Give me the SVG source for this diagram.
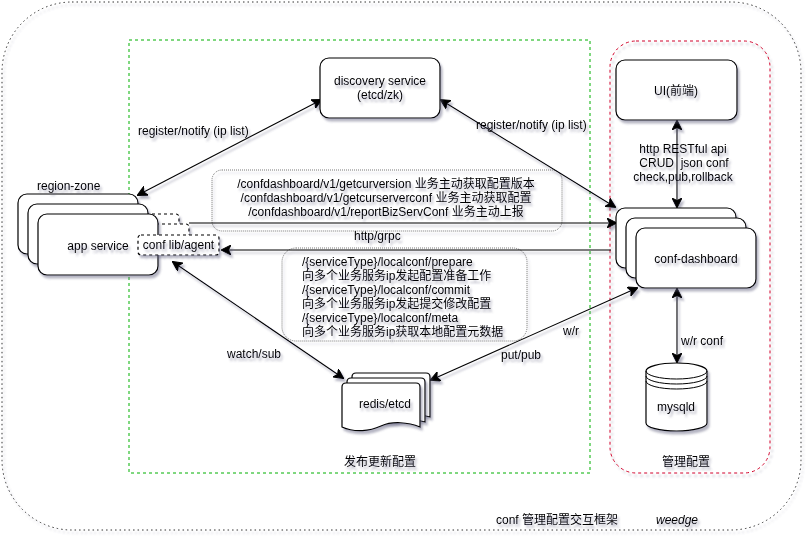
<svg xmlns="http://www.w3.org/2000/svg" width="812" height="542" viewBox="0 0 812 542">
<style>
text{font-family:"Liberation Sans","Noto Sans CJK SC",sans-serif;font-size:12px;fill:#000;white-space:pre;filter:url(#s)}
.m{text-anchor:middle}
.n{fill:#fff;stroke:#000;stroke-width:1.2;filter:url(#s)}
.d{fill:#fff;stroke:#000;stroke-width:1.2;stroke-dasharray:3 3;filter:url(#s)}
.note{fill:none;stroke:#555;stroke-width:.8;stroke-dasharray:1 1;filter:url(#s)}
.c{fill:none;stroke:#000;stroke-width:1.1;filter:url(#s)}
.p{fill:none;stroke:#000;stroke-width:1}
</style>
<defs>
<filter id="s" filterUnits="userSpaceOnUse" x="0" y="0" width="812" height="542"><feDropShadow dx="2" dy="3" stdDeviation="1.2" flood-color="#5a5a78" flood-opacity=".45"/></filter>
<marker id="a" viewBox="0 0 10 10" refX="9" refY="5" markerWidth="10" markerHeight="10" markerUnits="userSpaceOnUse" orient="auto-start-reverse"><path d="M0 0L10 5L0 10L2.500 5Z" fill="#000" stroke="#000"/></marker>
</defs>
<g id="frames">
<rect id="outer" x="2" y="2" width="799" height="528" rx="70" fill="none" stroke="#333" stroke-width="1" stroke-dasharray="1.500 3" filter="url(#s)"/>
<rect id="publish" x="129" y="40" width="461" height="433" fill="none" stroke="#00b000" stroke-width="1" stroke-dasharray="3 3"/>
<rect id="manage" x="610" y="41" width="160" height="432" rx="26" fill="none" stroke="#d0002a" stroke-width="1" stroke-dasharray="3 3" filter="url(#s)"/>
</g>
<g id="note1"><rect class="note" x="212" y="170" width="350" height="61" rx="10"/>
<text class="m" x="386" y="188">/confdashboard/v1/getcurversion 业务主动获取配置版本</text>
<text class="m" x="386" y="202">/confdashboard/v1/getcurserverconf 业务主动获取配置</text>
<text class="m" x="386" y="216">/confdashboard/v1/reportBizServConf 业务主动上报</text></g>
<g id="note2"><rect class="note" x="282" y="248" width="245" height="93" rx="14"/>
<text x="302" y="266">/{serviceType}/localconf/prepare</text>
<text x="302" y="280">向多个业务服务ip发起配置准备工作</text>
<text x="302" y="294">/{serviceType}/localconf/commit</text>
<text x="302" y="308">向多个业务服务ip发起提交修改配置</text>
<text x="302" y="322">/{serviceType}/localconf/meta</text>
<text x="302" y="336">向多个业务服务ip获取本地配置元数据</text></g>
<g id="connectors">
<path class="c" marker-start="url(#a)" marker-end="url(#a)" d="M321 100L138 195"/>
<path class="c" marker-start="url(#a)" marker-end="url(#a)" d="M441 100L615 207"/>
<path class="c" marker-start="url(#a)" marker-end="url(#a)" d="M677 121V207"/>
<path class="c" marker-end="url(#a)" d="M189 223H616"/>
<path class="c" marker-end="url(#a)" d="M611 250H222"/>
<path class="c" marker-start="url(#a)" marker-end="url(#a)" d="M173 262L343 378"/>
<path class="c" marker-start="url(#a)" marker-end="url(#a)" d="M431 380L637 288"/>
<path class="c" marker-start="url(#a)" marker-end="url(#a)" d="M677 289V362"/>
</g>
<g id="discovery"><rect class="n" x="320" y="58" width="120" height="60" rx="9"/>
<text class="m" x="380" y="85">discovery service</text><text class="m" x="380" y="99">(etcd/zk)</text></g>
<g id="ui"><rect class="n" x="616" y="60" width="121" height="60" rx="9"/>
<text class="m" x="676" y="95">UI(前端)</text></g>
<g id="app-service">
<rect class="n" x="18" y="194" width="120" height="60" rx="9"/>
<rect class="d" x="125" y="214" width="54" height="20" rx="3"/>
<rect class="n" x="28" y="204" width="120" height="60" rx="9"/>
<rect class="d" x="135" y="224" width="54" height="20" rx="3"/>
<rect class="n" x="38" y="214" width="120" height="61" rx="9"/>
<text class="m" x="98" y="250">app service</text>
</g>
<g id="conf-lib"><rect class="d" x="138" y="235" width="81" height="20" rx="3"/>
<text class="m" x="178.500" y="249">conf lib/agent</text></g>
<g id="conf-dashboard">
<rect class="n" x="616" y="208" width="120" height="60" rx="9"/>
<rect class="n" x="626" y="218" width="120" height="60" rx="9"/>
<rect class="n" x="636" y="228" width="120" height="60" rx="9"/>
<text class="m" x="696" y="263">conf-dashboard</text>
</g>
<g id="redis">
<path class="n" d="M352 377Q352 373 356 373H426Q430 373 430 377V417C420 414 410 414 400 417H352Z"/>
<path class="n" d="M347 382Q347 378 351 378H421Q425 378 425 382V422C415 419 405 419 395 422H347Z"/>
<path class="n" d="M342 387Q342 383 346 383H416Q420 383 420 387V427C408 422 392 421 381 426C370 431 355 433 342 427Z"/>
<text class="m" x="385" y="408">redis/etcd</text>
</g>
<g id="mysqld">
<path class="n" d="M646 371A30.500 8 0 0 1 707 371V423A30.500 8 0 0 1 646 423Z"/>
<path class="p" d="M646 371A30.500 8 0 0 0 707 371M646 376A30.500 8 0 0 0 707 376M646 381A30.500 8 0 0 0 707 381"/>
<text class="m" x="676" y="411">mysqld</text>
</g>
<g id="labels">
<text x="37" y="190">region-zone</text>
<text x="138" y="135">register/notify (ip list)</text>
<text x="476" y="129">register/notify (ip list)</text>
<text x="354" y="240">http/grpc</text>
<text x="227" y="358">watch/sub</text>
<text x="501" y="359">put/pub</text>
<text x="563" y="335">w/r</text>
<text x="681" y="345">w/r conf</text>
<text class="m" x="683" y="153">http RESTful api</text>
<text class="m" x="684" y="167">CRUD  json conf</text>
<text class="m" x="683" y="181">check,pub,rollback</text>
<text class="m" x="380" y="466">发布更新配置</text>
<text class="m" x="686" y="466">管理配置</text>
<text x="496" y="524">conf 管理配置交互框架</text>
<text x="656" y="524" font-style="italic">weedge</text>
</g>
</svg>
